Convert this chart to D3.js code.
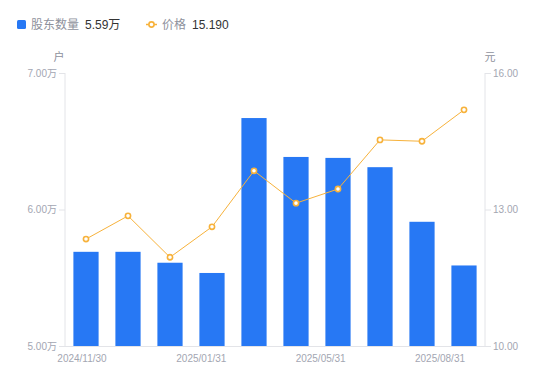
<!DOCTYPE html>
<meta charset="utf-8">
<style>
body { margin: 0; background: #fff; }
text { font-family: "Liberation Sans", "Noto Sans CJK SC", sans-serif; }
</style>
<svg width="550" height="381"></svg>
<script src="https://d3js.org/d3.v7.min.js"></script>
<script>

// data
var dates = ["2024/11/30", "2024/12/10", "2024/12/31", "2025/01/31", "2025/03/31",
             "2025/04/30", "2025/05/31", "2025/06/30", "2025/07/31", "2025/08/31"];
var holders = [5.69, 5.69, 5.61, 5.535, 6.67, 6.385, 6.378, 6.31, 5.91, 5.59];   // 万户
var prices = [12.35, 12.86, 11.95, 12.62, 13.85, 13.14, 13.45, 14.53, 14.50, 15.19];
var leftTicks = [5, 6, 7];
var rightTicks = [10, 13, 16];
var shownDates = ["2024/11/30", "2025/01/31", "2025/05/31", "2025/08/31"];

var svg = d3.select("svg");
var pLeft = 65, pRight = 485, pTop = 73, pBottom = 346;
var axisColor = "#e3e4e8", labelColor = "#a3a6b2";

var x = d3.scaleBand().domain(dates).range([pLeft, pRight]).paddingInner(0.4).paddingOuter(0.2);
var yL = d3.scaleLinear().domain([5, 7]).range([pBottom, pTop]);
var yR = d3.scaleLinear().domain([10, 16]).range([pBottom, pTop]);
var xLab = d3.scalePoint().domain(shownDates).range([82, 440]);

// axes
var gl = svg.append("g").attr("transform", "translate(" + pLeft + ",0)")
    .call(d3.axisLeft(yL).tickValues(leftTicks).tickSize(6).tickPadding(2)
      .tickFormat(function(d) { return d3.format(".2f")(d) + "万"; }));
var gr = svg.append("g").attr("transform", "translate(" + pRight + ",0)")
    .call(d3.axisRight(yR).tickValues(rightTicks).tickSize(6).tickPadding(2)
      .tickFormat(d3.format(".2f")));
[gl, gr].forEach(function(g) {
  g.select(".domain").attr("stroke", axisColor).attr("d", "M0," + pTop + "V" + pBottom);
  g.selectAll(".tick line").attr("stroke", axisColor);
  g.selectAll(".tick text").attr("fill", labelColor).attr("font-size", 10)
      .attr("font-family", "Liberation Sans, Noto Sans CJK SC, sans-serif");
});

svg.append("line")
    .attr("x1", pLeft).attr("x2", pRight).attr("y1", pBottom + 0.5).attr("y2", pBottom + 0.5)
    .attr("stroke", axisColor);

svg.append("g").selectAll("text")
  .data(shownDates)
  .enter().append("text")
    .attr("x", function(d) { return xLab(d); })
    .attr("y", 362)
    .attr("text-anchor", "middle")
    .attr("fill", labelColor)
    .attr("font-size", 10)
    .text(function(d) { return d; });

svg.append("text").attr("x", 59).attr("y", 61).attr("text-anchor", "middle")
    .attr("fill", "#8e919c").attr("font-size", 11).text("户");
svg.append("text").attr("x", 490).attr("y", 61).attr("text-anchor", "middle")
    .attr("fill", "#8e919c").attr("font-size", 11).text("元");

// bars
svg.append("g").selectAll("rect")
  .data(holders)
  .enter().append("rect")
    .attr("x", function(d, i) { return x(dates[i]); })
    .attr("width", x.bandwidth())
    .attr("y", function(d) { return yL(d); })
    .attr("height", function(d) { return pBottom - yL(d); })
    .attr("fill", "#2778f4");

// price line
var line = d3.line()
    .x(function(d, i) { return x(dates[i]) + x.bandwidth() / 2; })
    .y(function(d) { return yR(d); });

svg.append("path")
    .datum(prices)
    .attr("fill", "none")
    .attr("stroke", "#f7b23b")
    .attr("stroke-width", 1)
    .attr("d", line);

svg.append("g").selectAll("circle")
  .data(prices)
  .enter().append("circle")
    .attr("cx", function(d, i) { return x(dates[i]) + x.bandwidth() / 2; })
    .attr("cy", function(d) { return yR(d); })
    .attr("r", 2.6)
    .attr("fill", "#fff")
    .attr("stroke", "#f7b23b")
    .attr("stroke-width", 1.6);

// legend
var lg = svg.append("g");
lg.append("rect").attr("x", 17).attr("y", 20).attr("width", 9).attr("height", 9)
    .attr("rx", 1.5).attr("fill", "#2778f4");
lg.append("text").attr("x", 31).attr("y", 29).attr("font-size", 12)
    .attr("fill", "#8e919c").text("股东数量");
lg.append("text").attr("x", 85).attr("y", 29).attr("font-size", 12)
    .attr("fill", "#333").text(d3.format(".2f")(holders[holders.length - 1]) + "万");
lg.append("line").attr("x1", 146).attr("x2", 157).attr("y1", 24.5).attr("y2", 24.5)
    .attr("stroke", "#f7b23b").attr("stroke-width", 1.5);
lg.append("circle").attr("cx", 151.5).attr("cy", 24.5).attr("r", 2.6)
    .attr("fill", "#fff").attr("stroke", "#f7b23b").attr("stroke-width", 1.6);
lg.append("text").attr("x", 162).attr("y", 29).attr("font-size", 12)
    .attr("fill", "#8e919c").text("价格");
lg.append("text").attr("x", 192).attr("y", 29).attr("font-size", 12)
    .attr("fill", "#333").text(d3.format(".3f")(prices[prices.length - 1]));

</script>
